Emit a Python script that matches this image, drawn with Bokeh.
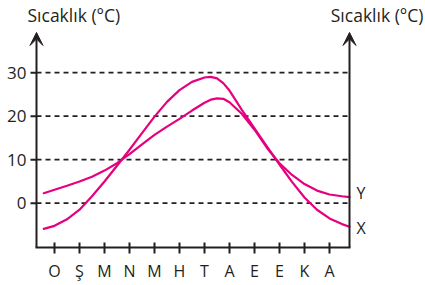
from bokeh.plotting import figure
from bokeh.models import Arrow, VeeHead, Range1d
from bokeh.core.properties import value
from bokeh.embed import file_html
from bokeh.resources import INLINE

# ---- data ----
months = ["O", "Ş", "M", "N", "M", "H", "T", "A", "E", "E", "K", "A"]
month_pos = list(range(12))
y_ticks = [0, 10, 20, 30]
y_tick_labels = ["0", "10", "20", "30"]
axis_title = "Sıcaklık (°C)"

curve_pos = [-0.43, 0, 0.5, 1, 1.5, 2, 2.5, 3, 3.5, 4, 4.5, 5, 5.5, 6, 6.25,
             6.5, 6.75, 7, 7.5, 8, 8.5, 9, 9.5, 10, 10.5, 11, 11.5, 11.8]
temp_x = [-5.9, -5.2, -3.7, -1.5, 1.6, 5.0, 8.6, 12.3, 16.1, 19.9, 23.3, 26.0,
          27.9, 28.9, 29.05, 28.7, 27.6, 25.9, 21.4, 17.2, 13.0, 8.9, 4.9,
          1.3, -1.5, -3.5, -4.8, -5.4]
temp_y = [2.3, 3.1, 4.0, 5.0, 6.1, 7.5, 9.2, 11.3, 13.5, 15.7, 17.6, 19.4,
          21.3, 23.1, 23.8, 24.1, 24.0, 23.2, 20.5, 16.9, 12.7, 9.2, 6.5,
          4.4, 2.9, 2.0, 1.6, 1.4]
series_names = ["X", "Y"]

# ---- layout / styling ----
W, H = 425, 285
PX_X = 25.0      # pixels per month
PX_Y = 4.35      # pixels per degree
X_LO = -2.16
Y_HI = 46.6
X_HI = X_LO + W / PX_X
Y_LO = Y_HI - H / PX_Y
AX_L, AX_R = -0.72, 11.8     # vertical axes
AX_B, AX_T = -10.2, 39.25    # bottom axis / arrow tips

INK = "#231f20"
MAGENTA = "#e6007e"
FONT = value("Open Sans")

p = figure(width=W, height=H, x_range=Range1d(X_LO, X_HI),
           y_range=Range1d(Y_LO, Y_HI), output_backend="svg",
           toolbar_location=None, x_axis_location=None, y_axis_location=None,
           min_border=0, outline_line_color=None,
           background_fill_color="white", border_fill_color="white")
p.grid.visible = False

# dashed grid lines
p.segment(x0=AX_L, x1=AX_R, y0=y_ticks, y1=y_ticks, line_color=INK,
          line_width=1.8, line_dash="5 4")

# curves
for vals in (temp_x, temp_y):
    p.line(curve_pos, vals, line_color=MAGENTA, line_width=2.2,
           line_join="round", line_cap="round")

# bottom axis line
p.segment(x0=[AX_L], x1=[AX_R], y0=[AX_B], y1=[AX_B], line_color=INK,
          line_width=2, line_cap="square")

# vertical axes with arrow heads
for xa in (AX_L, AX_R):
    p.add_layout(Arrow(end=VeeHead(size=13, fill_color=INK, line_color=INK,
                                   line_width=1),
                       x_start=xa, y_start=AX_B, x_end=xa, y_end=AX_T,
                       line_color=INK, line_width=2))

# y ticks + labels
p.segment(x0=AX_L - 6 / PX_X, x1=AX_L, y0=y_ticks, y1=y_ticks,
          line_color=INK, line_width=2)
p.text(x=AX_L - 10 / PX_X, y=y_ticks, text=y_tick_labels, text_font=FONT,
       text_font_size="17px", text_color=INK, text_align="right",
       text_baseline="middle")

# x ticks + labels
p.segment(x0=month_pos, x1=month_pos, y0=AX_B - 6 / PX_Y,
          y1=AX_B + 5 / PX_Y, line_color=INK, line_width=2)
p.text(x=month_pos, y=AX_B - 23 / PX_Y, text=months, text_font=FONT,
       text_font_size="16px", text_color=INK, text_align="center",
       text_baseline="middle")

# axis titles
p.text(x=[AX_L - 9 / PX_X], y=[AX_T + 17.5 / PX_Y], text=[axis_title],
       text_font=FONT, text_font_size="17.5px", text_color=INK,
       text_align="left", text_baseline="middle")
p.text(x=[AX_R + 74 / PX_X], y=[AX_T + 17.5 / PX_Y], text=[axis_title],
       text_font=FONT, text_font_size="17.5px", text_color=INK,
       text_align="right", text_baseline="middle")

# series labels at curve ends
for name, vals, off in zip(series_names, (temp_x, temp_y), (-1, 4)):
    p.text(x=[AX_R + 7 / PX_X], y=[vals[-1] + off / PX_Y], text=[name],
           text_font=FONT, text_font_size="16px", text_color=INK,
           text_align="left", text_baseline="middle")

open("out.html", "w").write(file_html(p, INLINE))
